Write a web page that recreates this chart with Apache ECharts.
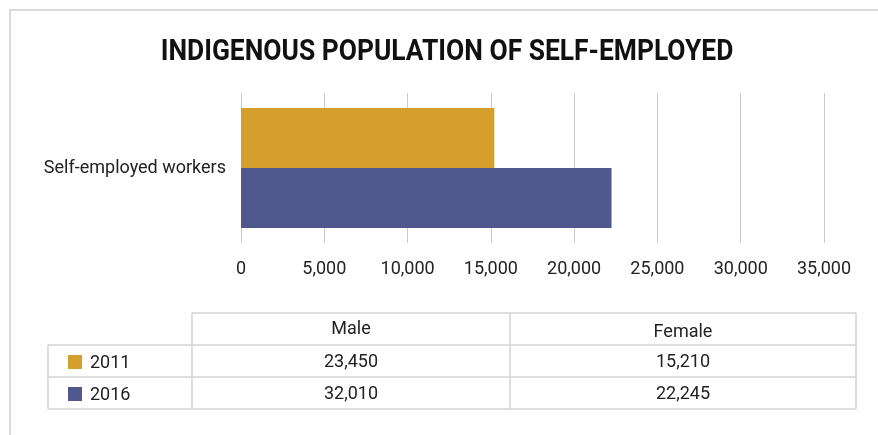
<!DOCTYPE html>
<html>
<head>
<meta charset="utf-8">
<script src="https://cdn.jsdelivr.net/npm/echarts@6/dist/echarts.min.js"></script>
<style>
  html, body { margin: 0; padding: 0; background: #fff; }
  #chart { width: 878px; height: 435px; }
</style>
</head>
<body>
<div id="chart"></div>
<script>
// Self-employed Indigenous population, by census year
const categories = ['Self-employed workers'];
const years = ['2011', '2016'];
const colors = ['#D59F2D', '#51588D'];
const maleValues = [23450, 32010];
const femaleValues = [15210, 22245];
const tickValues = [0, 5000, 10000, 15000, 20000, 25000, 30000, 35000];
const tableHeaders = ['Male', 'Female'];

const fmt = v => v.toLocaleString('en-US');
const FONT = 'Roboto, "Noto Sans", sans-serif';

const chart = echarts.init(document.getElementById('chart'));

// Data table under the chart
const colX = [48, 192, 510, 856];
const rowY = [313, 345, 377, 409];
const lineColor = '#d3d3d3';
const tableGraphics = [];

function hLine(x1, x2, y) {
  tableGraphics.push({ type: 'line', shape: { x1, y1: y, x2, y2: y },
    style: { stroke: lineColor, lineWidth: 1.5 }, silent: true });
}
function vLine(x, y1, y2) {
  tableGraphics.push({ type: 'line', shape: { x1: x, y1, x2: x, y2 },
    style: { stroke: lineColor, lineWidth: 1.5 }, silent: true });
}
function cellText(text, x, y) {
  tableGraphics.push({ type: 'text', x, y, silent: true,
    style: { text, fill: '#222', font: '18px ' + FONT, align: 'center', verticalAlign: 'middle' } });
}

hLine(colX[1], colX[3], rowY[0]);
hLine(colX[0], colX[3], rowY[1]);
hLine(colX[0], colX[3], rowY[2]);
hLine(colX[0], colX[3], rowY[3]);
vLine(colX[0], rowY[1], rowY[3]);
vLine(colX[1], rowY[0], rowY[3]);
vLine(colX[2], rowY[0], rowY[3]);
vLine(colX[3], rowY[0], rowY[3]);

tableHeaders.forEach((h, i) => {
  cellText(h, (colX[i + 1] + colX[i + 2]) / 2, (rowY[0] + rowY[1]) / 2 + (i === 0 ? 0 : 3));
});

years.forEach((yr, r) => {
  const cy = (rowY[r + 1] + rowY[r + 2]) / 2 + 1;
  tableGraphics.push({ type: 'rect', shape: { x: 68, y: cy - 7, width: 14, height: 14 },
    style: { fill: colors[r] }, silent: true });
  tableGraphics.push({ type: 'text', x: 90, y: cy + 1, silent: true,
    style: { text: yr, fill: '#222', font: '18px ' + FONT, align: 'left', verticalAlign: 'middle' } });
  cellText(fmt(maleValues[r]), (colX[1] + colX[2]) / 2, cy);
  cellText(fmt(femaleValues[r]), (colX[2] + colX[3]) / 2, cy);
});

const option = {
  animation: false,
  textStyle: { fontFamily: FONT },
  grid: { left: 241, right: 54, top: 93, bottom: 192, containLabel: false },
  xAxis: {
    type: 'value',
    min: tickValues[0],
    max: tickValues[tickValues.length - 1],
    interval: tickValues[1] - tickValues[0],
    axisLine: { show: false },
    axisTick: { show: false },
    splitLine: { show: true, lineStyle: { color: '#cccccc', width: 1 } },
    axisLabel: { color: '#222', fontSize: 18, margin: 17, formatter: v => fmt(v) }
  },
  yAxis: {
    type: 'category',
    data: categories,
    inverse: true,
    axisLine: { show: false },
    axisTick: { show: false },
    axisLabel: { color: '#222', fontSize: 18, margin: 15 }
  },
  series: years.map((yr, i) => ({
    name: yr,
    type: 'bar',
    data: [femaleValues[i]],
    barWidth: 60,
    barGap: '0%',
    itemStyle: { color: colors[i] }
  })),
  graphic: [
    { type: 'rect', shape: { x: 10, y: 10, width: 1000, height: 600 },
      style: { fill: 'none', stroke: '#cfcfcf', lineWidth: 1.5 }, silent: true, z: -10 },
    { type: 'text', x: 447, y: 53, scaleX: 0.91, silent: true,
      style: { text: 'INDIGENOUS POPULATION OF SELF-EMPLOYED', fill: '#111',
        font: 'bold 29px ' + FONT, align: 'center', verticalAlign: 'middle' } },
    ...tableGraphics
  ]
};

chart.setOption(option);
</script>
</body>
</html>
